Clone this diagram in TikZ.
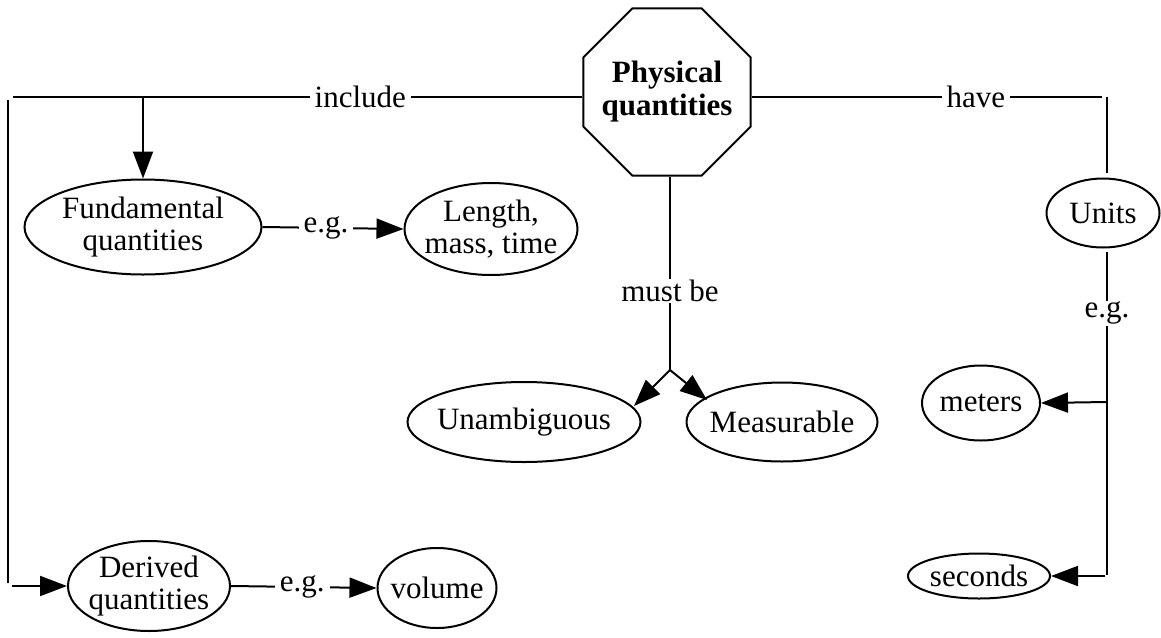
\documentclass[tikz,border=0pt]{standalone}
\usepackage{fontspec}
\setmainfont{Liberation Serif}
\usetikzlibrary{shapes.geometric,arrows.meta}
\begin{document}
\begin{tikzpicture}[x=1pt,y=-1pt, line width=2pt,
  every node/.style={font=\fontsize{31}{32}\selectfont},
  oval/.style={ellipse,draw,inner xsep=-30pt,inner ysep=-20pt,align=center},
  lbl/.style={fill=white,inner xsep=5pt,inner ysep=1pt},
  arr/.style={-{Triangle[length=27pt,width=20pt]}}]
\useasboundingbox (0,0) rectangle (1161,637);
% nodes
\node[regular polygon, regular polygon sides=8, draw, minimum size=181pt, inner sep=-30pt, align=center,
      font=\bfseries\fontsize{31}{33}\selectfont] (phys) at (667,92) {Physical\\quantities};
\node[oval, minimum width=237pt, minimum height=95pt] (fund) at (143,227) {Fundamental\\quantities};
\node[oval, minimum width=173pt, minimum height=92pt] (len) at (491,229) {Length,\\mass, time};
\node[oval, minimum width=233pt, minimum height=80pt] (unam) at (524,422) {Unambiguous};
\node[oval, minimum width=191pt, minimum height=79pt] (meas) at (782,422) {Measurable};
\node[oval, minimum width=113pt, minimum height=69pt] (units) at (1103,213) {Units};
\node[oval, minimum width=118pt, minimum height=75pt] (met) at (981,403) {meters};
\node[oval, minimum width=142pt, minimum height=45pt] (sec) at (979,576) {seconds};
\node[oval, minimum width=162pt, minimum height=90pt] (der) at (149,586) {Derived\\quantities};
\node[oval, minimum width=119pt, minimum height=80pt] (vol) at (437,588) {volume};
% coordinates
\coordinate (incL) at (13,97);
\coordinate (fundTop) at (143,97);
\coordinate (incV) at (8,100);
\coordinate (incB) at (8,583);
\coordinate (derS) at (12,586);
\coordinate (mb) at (670,370);
\coordinate (unamTip) at (634,406);
\coordinate (measTip) at (707,400);
\coordinate (hvL) at (1102,97);
\coordinate (hvV) at (1107,97);
\coordinate (unitsTop) at (1107,173);
\coordinate (unitsBot) at (1107,252);
\coordinate (egB) at (1107,575);
\coordinate (metS) at (1107,402);
\coordinate (secS) at (1105,576);
% include
\draw (phys.west |- incL) -- node[lbl, pos=0.39]{include} (incL);
\draw[arr] (fundTop) -- (fundTop |- fund.north);
\draw (incV) -- (incB);
\draw[arr] (derS) -- (der.west);
% e.g.
\draw[arr] (fund.east) -- node[lbl, pos=0.45]{e.g.} (len.west);
\draw[arr] (der.east) -- node[lbl, pos=0.49]{e.g.} (vol.west);
% must be
\draw (phys.south -| mb) -- node[lbl, pos=0.59]{must be} (mb);
\draw[arr] (mb) -- (unamTip);
\draw[arr] (mb) -- (measTip);
% have
\draw (phys.east |- hvL) -- node[lbl, pos=0.64]{have} (hvL);
\draw (hvV) -- (unitsTop);
% units e.g.
\draw (unitsBot) -- node[lbl, pos=0.19]{e.g.} (egB);
\draw[arr] (metS) -- (met.east);
\draw[arr] (secS) -- (sec.east);
\end{tikzpicture}
\end{document}
